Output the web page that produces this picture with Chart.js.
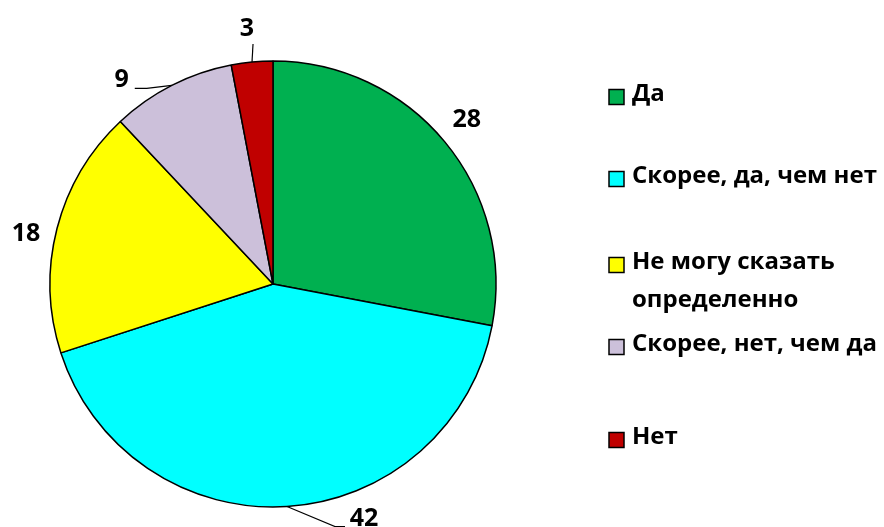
<!DOCTYPE html>
<html>
<head>
<meta charset="utf-8">
<script src="https://cdn.jsdelivr.net/npm/chart.js@4.4.1/dist/chart.umd.min.js"></script>
<style>
  html, body { margin: 0; background: #fff; }
  #wrap { width: 884px; height: 527px; }
</style>
</head>
<body>
<div id="wrap"><canvas id="grafico"></canvas></div>
<script>
// Datos
const categorias = ["Да", "Скорее, да, чем нет", "Не могу сказать определенно", "Скорее, нет, чем да", "Нет"];
const valores = [28, 42, 18, 9, 3];
const colores = ["#00B050", "#00FFFF", "#FFFF00", "#CCC0DA", "#C00000"];

// Etiquetas de valores fuera del pastel, con lineas guia
const etiquetasPlugin = {
  id: "etiquetas",
  afterDatasetsDraw(chart, args, opts) {
    const ctx = chart.ctx;
    const arcos = chart.getDatasetMeta(0).data;
    ctx.save();
    ctx.font = opts.font;
    ctx.fillStyle = "#000";
    ctx.strokeStyle = "#000";
    ctx.lineWidth = 1.2;
    ctx.textAlign = "center";
    ctx.textBaseline = "middle";
    arcos.forEach((arco, i) => {
      const p = arco.getProps(["x", "y", "startAngle", "endAngle", "outerRadius"], true);
      const medio = (p.startAngle + p.endAngle) / 2;
      const bx = p.x + Math.cos(medio) * p.outerRadius;
      const by = p.y + Math.sin(medio) * p.outerRadius;
      const desp = opts.desplazamientos[i];
      const lx = bx + desp.dx;
      const ly = by + desp.dy;
      if (desp.guia) {
        ctx.beginPath();
        ctx.moveTo(bx, by);
        desp.guia.forEach(g => ctx.lineTo(lx + g[0], ly + g[1]));
        ctx.stroke();
      }
      ctx.fillText(valores[i], lx, ly + 1);
    });
    ctx.restore();
  }
};

// Leyenda dibujada a mano (para poder partir el texto largo)
const leyendaPlugin = {
  id: "leyenda",
  afterDraw(chart, args, opts) {
    const ctx = chart.ctx;
    ctx.save();
    ctx.font = opts.font;
    ctx.textBaseline = "middle";
    ctx.textAlign = "left";
    categorias.forEach((cat, i) => {
      const y = opts.filas[i];
      ctx.fillStyle = colores[i];
      ctx.fillRect(opts.x, y - 7.5, 15, 15);
      ctx.strokeStyle = "#000";
      ctx.lineWidth = 1.5;
      ctx.strokeRect(opts.x, y - 7.5, 15, 15);
      // partir en lineas
      const palabras = cat.split(" ");
      let lineas = [];
      let actual = "";
      palabras.forEach(w => {
        const prueba = actual ? actual + " " + w : w;
        if (ctx.measureText(prueba).width > opts.anchoMax && actual) {
          lineas.push(actual);
          actual = w;
        } else {
          actual = prueba;
        }
      });
      lineas.push(actual);
      ctx.fillStyle = "#000";
      lineas.forEach((l, k) => ctx.fillText(l, opts.x + 23, y - 3 + k * opts.interlinea));
    });
    ctx.restore();
  }
};

const grafico = new Chart(document.getElementById("grafico"), {
  type: "pie",
  data: {
    labels: categorias,
    datasets: [{
      data: valores,
      backgroundColor: colores,
      borderColor: "#000",
      borderWidth: 1.5
    }]
  },
  options: {
    responsive: true,
    maintainAspectRatio: false,
    animation: false,
    radius: 223,
    layout: { padding: { left: 0, right: 338, top: 41, bottom: 0 } },
    plugins: {
      legend: { display: false },
      tooltip: { enabled: false },
      etiquetas: {
        font: "bold 25px 'Open Sans'",
        desplazamientos: [
          { dx: 22, dy: -23 },
          { dx: 77, dy: 11, guia: [[-29, 9], [-19, 9]] },
          { dx: -31, dy: 4 },
          { dx: -50, dy: -6, guia: [[25, 9], [13, 9]] },
          { dx: -5, dy: -34, guia: [[6, 16]] }
        ]
      },
      leyenda: {
        font: "bold 24px 'Open Sans'",
        x: 609,
        filas: [97, 179, 265, 347, 440],
        interlinea: 38,
        anchoMax: 250
      }
    }
  },
  plugins: [etiquetasPlugin, leyendaPlugin]
});
</script>
</body>
</html>
